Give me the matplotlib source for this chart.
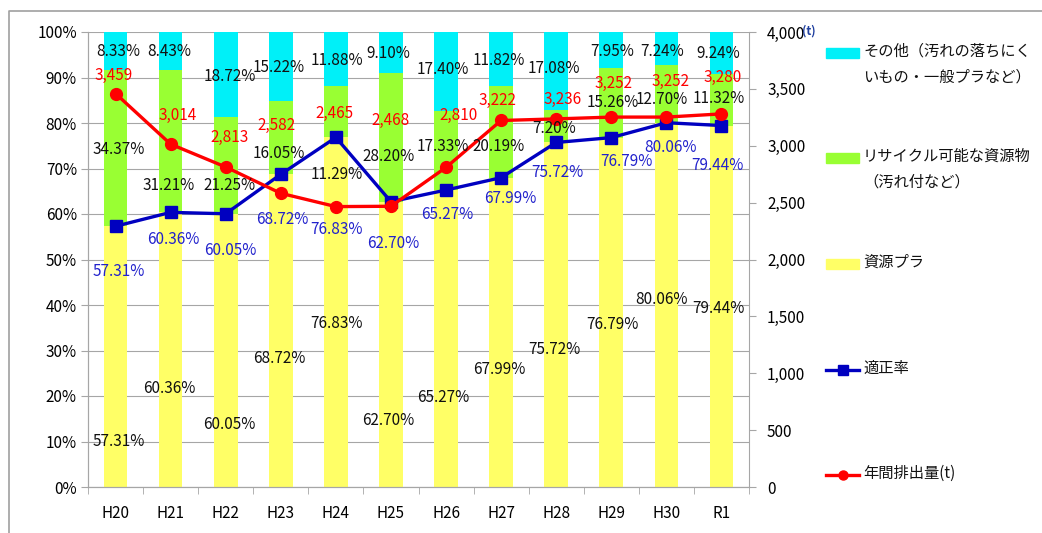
import matplotlib.pyplot as plt
import numpy as np
from matplotlib.lines import Line2D
from matplotlib.patches import Rectangle
from matplotlib.ticker import FuncFormatter, MultipleLocator

plt.rcParams['font.family'] = ['Noto Sans CJK JP', 'DejaVu Sans']

years = ["H20", "H21", "H22", "H23", "H24", "H25", "H26", "H27", "H28", "H29", "H30", "R1"]
shigen = [57.31, 60.36, 60.05, 68.72, 76.83, 62.70, 65.27, 67.99, 75.72, 76.79, 80.06, 79.44]
recycle = [34.37, 31.21, 21.25, 16.05, 11.29, 28.20, 17.33, 20.19, 7.20, 15.26, 12.70, 11.32]
sonota = [8.33, 8.43, 18.72, 15.22, 11.88, 9.10, 17.40, 11.82, 17.08, 7.95, 7.24, 9.24]
tekisei = shigen
haishutsu = [3459, 3014, 2813, 2582, 2465, 2468, 2810, 3222, 3236, 3252, 3252, 3280]

# where Excel put the data labels (percent axis / tonnes axis)
lab_y_shigen = [10.0, 21.7, 13.8, 28.3, 36.0, 14.6, 19.6, 25.9, 30.3, 35.8, 41.3, 39.3]
lab_y_recycle = [74.2, 66.2, 66.2, 73.3, 68.6, 72.6, 74.9, 74.9, 78.8, 84.4, 85.1, 85.3]
lab_y_sonota = [95.7, 95.7, 90.3, 92.2, 93.8, 95.3, 91.7, 93.8, 91.9, 95.8, 95.8, 95.3]
lab_y_tekisei = [47.3, 54.3, 51.9, 58.7, 56.6, 53.6, 59.8, 63.3, 69.2, 71.5, 74.6, 70.6]
lab_dx_tekisei = [0.05, 0.05, 0.08, 0.02, 0.02, 0.05, 0.03, 0.16, 0.03, 0.27, 0.07, -0.08]
lab_y_haishutsu = [3622, 3270, 3074, 3182, 3285, 3226, 3270, 3402, 3411, 3549, 3563, 3602]
lab_dx_haishutsu = [-0.03, 0.12, 0.07, -0.07, -0.03, 0.0, 0.22, -0.06, 0.12, 0.04, 0.07, 0.02]
lab_dx_bar = [0.05, -0.03, 0.07, -0.03, 0.02, -0.05, -0.05, -0.04, -0.04, 0.02, -0.08, -0.05]

c_yellow = '#FFFF66'
c_green = '#99FF33'
c_cyan = '#00F0F8'
c_blue = '#0000C0'
c_red = '#FF0000'
grid_c = '#A6A6A6'

fig = plt.figure(figsize=(10.42, 5.33), dpi=100)
ax = fig.add_axes([88 / 1042, 1 - 487 / 533, (749 - 88) / 1042, (487 - 32) / 533])
ax2 = ax.twinx()

x = np.arange(len(years))
w = 0.43
ax.bar(x, shigen, w, color=c_yellow, zorder=2)
ax.bar(x, recycle, w, bottom=shigen, color=c_green, zorder=2)
ax.bar(x, sonota, w, bottom=np.array(shigen) + np.array(recycle), color=c_cyan, zorder=2)

ax.set_ylim(0, 100)
ax.set_xlim(-0.5, len(years) - 0.5)
ax.yaxis.set_major_locator(MultipleLocator(10))
ax.yaxis.set_major_formatter(FuncFormatter(lambda v, p: f"{v:.0f}%"))
ax.grid(axis='y', color=grid_c, lw=0.8, zorder=0)
ax.set_axisbelow(True)
ax.set_xticks(x)
ax.set_xticklabels(years)
ax.set_xticks(np.arange(-0.5, len(years)), minor=True)
ax.tick_params(axis='x', which='major', length=0, pad=13, labelsize=11)
ax.tick_params(axis='x', which='minor', length=5, color=grid_c)
ax.tick_params(axis='y', length=5, color=grid_c, labelsize=11, pad=3)

ax2.plot(x, [v * 40 for v in tekisei], color=c_blue, lw=2.4, marker='s', ms=9, zorder=4)
ax2.plot(x, haishutsu, color=c_red, lw=2.4, marker='o', ms=8.5, zorder=5)
ax2.set_ylim(0, 4000)
ax2.yaxis.set_major_locator(MultipleLocator(500))
ax2.yaxis.set_major_formatter(FuncFormatter(lambda v, p: f"{v:,.0f}"))
ax2.tick_params(axis='y', length=5, color=grid_c, labelsize=11, pad=8)

for a in (ax, ax2):
    a.spines['top'].set_visible(False)
    for s in ('left', 'right', 'bottom'):
        a.spines[s].set_color(grid_c)
ax.spines['right'].set_visible(False)

fs = 11
for i in range(len(years)):
    ax2.text(x[i] + lab_dx_bar[i], lab_y_shigen[i], f"{shigen[i]:.2f}%", transform=ax.transData,
             ha='center', va='center', fontsize=fs, color='#111111', zorder=6)
    ax2.text(x[i] + lab_dx_bar[i], lab_y_recycle[i], f"{recycle[i]:.2f}%", transform=ax.transData,
             ha='center', va='center', fontsize=fs, color='#111111', zorder=6)
    ax2.text(x[i] + lab_dx_bar[i], lab_y_sonota[i], f"{sonota[i]:.2f}%", transform=ax.transData,
             ha='center', va='center', fontsize=fs, color='#111111', zorder=6)
    ax2.text(x[i] + lab_dx_tekisei[i], lab_y_tekisei[i], f"{tekisei[i]:.2f}%", transform=ax.transData,
             ha='center', va='center', fontsize=fs, color='#2222CC', zorder=6)
    ax2.text(x[i] + lab_dx_haishutsu[i], lab_y_haishutsu[i], f"{haishutsu[i]:,}",
             ha='center', va='center', fontsize=fs, color=c_red, zorder=6)

# legend + outer frame, drawn in pixel space
lax = fig.add_axes([0, 0, 1, 1], facecolor='none')
lax.set_xlim(0, 1042)
lax.set_ylim(533, 0)
lax.axis('off')
lax.text(809, 31, "(t)", fontsize=8.5, fontweight='bold', color='#1F3F9F',
         ha='center', va='center')
leg_items = [
    ('patch', c_cyan, "その他（汚れの落ちにく\nいもの・一般プラなど）", 53),
    ('patch', c_green, "リサイクル可能な資源物\n（汚れ付など）", 158),
    ('patch', c_yellow, "資源プラ", 264),
    ('line_s', c_blue, "適正率", 370),
    ('line_o', c_red, "年間排出量(t)", 475),
]
for kind, col, label, yy in leg_items:
    if kind == 'patch':
        lax.add_patch(Rectangle((826, yy - 5), 33, 10, color=col))
    else:
        lax.add_line(Line2D([826, 859], [yy, yy], color=col, lw=2.4))
        lax.add_line(Line2D([842.5], [yy], color=col, marker='s' if kind == 'line_s' else 'o',
                            ms=6.5))
    lax.text(863, yy - 10, label, fontsize=11, va='top', ha='left', color='#111111',
             linespacing=1.62)
lax.add_line(Line2D([8.5, 8.5, 1042], [533, 10.5, 10.5], color='#A0A0A0', lw=1.2))

fig.savefig("out.png", dpi=100)
